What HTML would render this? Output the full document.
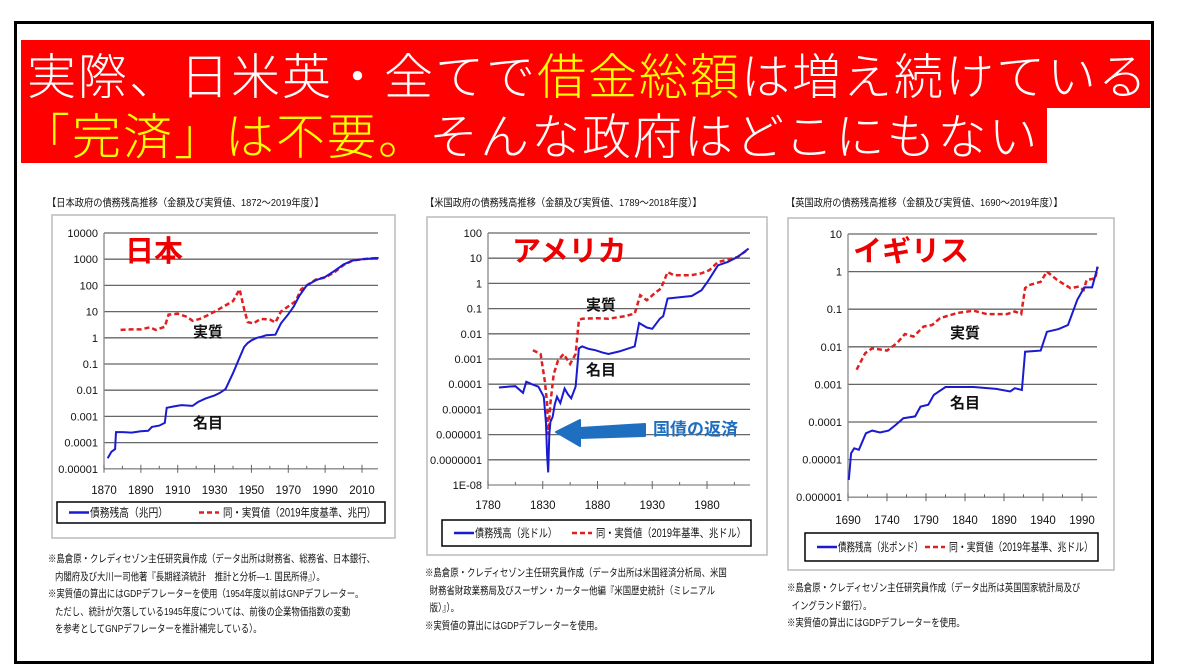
<!DOCTYPE html>
<html><head><meta charset="utf-8">
<style>
body{margin:0;background:#fff;width:1181px;height:670px;position:relative;overflow:hidden;font-family:"Liberation Sans","Noto Sans CJK JP",sans-serif;}
.frame{position:absolute;left:14px;top:21px;width:1134px;height:637px;border:3px solid #000;}
.band{position:absolute;background:#f00;color:#fff;font-family:"Noto Sans CJK JP",sans-serif;font-weight:300;font-size:49px;white-space:nowrap;overflow:hidden;}
.y{color:#ff0;}
.t{position:absolute;font-size:10.5px;white-space:nowrap;color:#111;transform:scaleX(0.88);transform-origin:0 0;}
.n{position:absolute;font-size:10.5px;line-height:17.5px;white-space:nowrap;color:#111;transform:scaleX(0.8);transform-origin:0 0;}
svg{position:absolute;left:0;top:0;}
</style></head><body>
<div class="frame"></div>
<div class="band" style="left:21px;top:40px;width:1129px;height:68px;padding-left:6px;box-sizing:border-box;line-height:68px;letter-spacing:2px;">実際、日米英・全てで<span class="y">借金総額</span>は増え続けている</div>
<div class="band" style="left:21px;top:108px;width:1026px;height:55px;line-height:52px;letter-spacing:2px;"><span class="y">「完済」は不要。</span>そんな政府はどこにもない</div>

<div class="t" style="left:47px;top:195px;">【日本政府の債務残高推移（金額及び実質値、1872～2019年度）】</div>
<div class="t" style="left:425px;top:195px;">【米国政府の債務残高推移（金額及び実質値、1789～2018年度）】</div>
<div class="t" style="left:786px;top:195px;">【英国政府の債務残高推移（金額及び実質値、1690～2019年度）】</div>

<div class="n" style="left:48px;top:551px;">※島倉原・クレディセゾン主任研究員作成（データ出所は財務省、総務省、日本銀行、<br>&nbsp;&nbsp;&nbsp;内閣府及び大川一司他著『長期経済統計　推計と分析―1. 国民所得』）。<br>※実質値の算出にはGDPデフレーターを使用（1954年度以前はGNPデフレーター。<br>&nbsp;&nbsp;&nbsp;ただし、統計が欠落している1945年度については、前後の企業物価指数の変動<br>&nbsp;&nbsp;&nbsp;を参考としてGNPデフレーターを推計補完している）。</div>
<div class="n" style="left:425px;top:565px;">※島倉原・クレディセゾン主任研究員作成（データ出所は米国経済分析局、米国<br>&nbsp;&nbsp;財務省財政業務局及びスーザン・カーター他編『米国歴史統計（ミレニアル<br>&nbsp;&nbsp;版）』）。<br>※実質値の算出にはGDPデフレーターを使用。</div>
<div class="n" style="left:787px;top:580px;">※島倉原・クレディセゾン主任研究員作成（データ出所は英国国家統計局及び<br>&nbsp;&nbsp;イングランド銀行）。<br>※実質値の算出にはGDPデフレーターを使用。</div>

<svg id="s" width="1181" height="670" xmlns="http://www.w3.org/2000/svg" font-family="Liberation Sans, Noto Sans CJK JP, sans-serif"></svg>
<script>
const s=document.getElementById('s');let h='';
function chart(c){
 const {bx,by,bw,bh,x0,x1,y0,n,maxLog,dy,yr0,yr1,px0,px1,ticks,ticksStep}=c;
 h+=`<rect x="${bx}" y="${by}" width="${bw}" height="${bh}" fill="#fff" stroke="#bbb" stroke-width="1.5"/>`;
 for(let i=0;i<=n;i++){const y=y0+i*dy;h+=`<line x1="${x0}" y1="${y}" x2="${x1}" y2="${y}" stroke="${i==n?'#888':'#666'}" stroke-width="1.3"/>`;
  h+=`<text x="${x0-6}" y="${y+4}" font-size="11" text-anchor="end" fill="#111">${c.labels[i]}</text>`;}
 h+=`<line x1="${x0}" y1="${y0}" x2="${x0}" y2="${y0+n*dy}" stroke="#888" stroke-width="1.3"/>`;
 const X=yr=>px0+(yr-yr0)*(px1-px0)/(yr1-yr0);
 const Y=l=>y0+(maxLog-l)*dy;
 const yb=y0+n*dy;
 ticks.forEach((t,i)=>{h+=`<line x1="${X(t)}" y1="${yb-4}" x2="${X(t)}" y2="${yb+4}" stroke="#666"/>`;h+=`<text x="${X(t)}" y="${yb+c.lblOff}" font-size="11.5" text-anchor="middle" fill="#111">${t}</text>`;
  const m=t+ticksStep/2; if(X(m)<x1) h+=`<line x1="${X(m)}" y1="${yb-3}" x2="${X(m)}" y2="${yb}" stroke="#666"/>`;});
 const pth=d=>d.map((p,i)=>(i?'L':'M')+X(p[0]).toFixed(1)+' '+Y(p[1]).toFixed(1)).join('');
 h+=`<path d="${pth(c.real)}" fill="none" stroke="#e02020" stroke-width="2.5" stroke-dasharray="5,3"/>`;
 h+=`<path d="${pth(c.nom)}" fill="none" stroke="#1a1ad0" stroke-width="2"/>`;
 const L=c.leg;
 h+=`<rect x="${L.x}" y="${L.y}" width="${L.w}" height="${L.h}" fill="#fff" stroke="#000" stroke-width="1.5"/>`;
 const ly=L.y+L.h/2;
 h+=`<line x1="${L.x+12}" y1="${ly}" x2="${L.x+32}" y2="${ly}" stroke="#1a1ad0" stroke-width="2.5"/>`;
 h+=`<text x="${L.x+33}" y="${ly+4}" font-size="11.5" fill="#111" textLength="${L.al}" lengthAdjust="spacingAndGlyphs">${L.a}</text>`;
 h+=`<line x1="${L.x+L.d}" y1="${ly}" x2="${L.x+L.d+20}" y2="${ly}" stroke="#e02020" stroke-width="2.5" stroke-dasharray="5,3"/>`;
 h+=`<text x="${L.x+L.d+24}" y="${ly+4}" font-size="11.5" fill="#111" textLength="${L.bl}" lengthAdjust="spacingAndGlyphs">${L.b}</text>`;
 h+=`<text x="${c.big[0]}" y="${c.big[1]}" font-size="29" font-weight="bold" fill="#e00" font-family="Noto Sans CJK JP, sans-serif">${c.big[2]}</text>`;
 h+=`<text x="${c.jx}" y="${c.j1}" font-size="15" font-weight="bold" fill="#111" font-family="Noto Sans CJK JP, sans-serif">実質</text>`;
 h+=`<text x="${c.jx}" y="${c.j2}" font-size="15" font-weight="bold" fill="#111" font-family="Noto Sans CJK JP, sans-serif">名目</text>`;
}
chart({bx:52,by:215,bw:343,bh:323,x0:104,x1:378,y0:233,n:9,dy:26.2,maxLog:4,
 labels:['10000','1000','100','10','1','0.1','0.01','0.001','0.0001','0.00001'],
 yr0:1870,yr1:2010,px0:104,px1:362,ticks:[1870,1890,1910,1930,1950,1970,1990,2010],ticksStep:20,lblOff:25,
 nom:[[1872,-4.6],[1874,-4.35],[1876,-4.25],[1876.5,-3.6],[1880,-3.6],[1885,-3.62],[1890,-3.57],[1894,-3.55],[1896,-3.4],[1900,-3.35],[1903,-3.25],[1904,-2.67],[1908,-2.62],[1912,-2.57],[1918,-2.6],[1921,-2.45],[1925,-2.32],[1930,-2.2],[1933,-2.1],[1936,-1.95],[1940,-1.35],[1943,-0.85],[1946,-0.35],[1948,-0.2],[1950,-0.1],[1953,0],[1956,0.05],[1958,0.1],[1963,0.12],[1966,0.55],[1970,0.9],[1973,1.2],[1976,1.6],[1980,2.0],[1985,2.2],[1990,2.32],[1995,2.55],[2000,2.8],[2005,2.95],[2010,3.0],[2019,3.05]],
 real:[[1879,0.3],[1885,0.32],[1890,0.32],[1895,0.4],[1898,0.3],[1903,0.42],[1905,0.88],[1910,0.92],[1915,0.8],[1918,0.65],[1922,0.72],[1926,0.85],[1930,1.0],[1935,1.2],[1940,1.4],[1943.6,1.85],[1946,1.1],[1948,0.6],[1951,0.55],[1955,0.72],[1960,0.7],[1963,0.58],[1966,1.0],[1970,1.2],[1974,1.4],[1977,1.85],[1980,2.0],[1985,2.22],[1990,2.3],[1995,2.5],[2000,2.78],[2005,2.95],[2010,3.0],[2019,3.05]],
 leg:{x:57,y:502,w:328,h:21,a:'債務残高（兆円）',al:78,d:142,b:'同・実質値（2019年度基準、兆円）',bl:153},
 big:[125,261,'日本'],jx:193,j1:337,j2:428});
chart({bx:427,by:217,bw:340,bh:338,x0:488,x1:750,y0:233,n:10,dy:25.2,maxLog:2,
 labels:['100','10','1','0.1','0.01','0.001','0.0001','0.00001','0.000001','0.0000001','1E-08'],
 yr0:1780,yr1:1980,px0:488,px1:707,ticks:[1780,1830,1880,1930,1980],ticksStep:50,lblOff:24,
 nom:[[1790,-4.13],[1798,-4.1],[1805,-4.08],[1812,-4.34],[1815,-3.9],[1820,-4.0],[1826,-4.1],[1831,-4.5],[1833,-5.55],[1834,-6.8],[1835,-7.5],[1836,-6.0],[1837,-5.5],[1839,-5.3],[1841,-4.8],[1843,-4.5],[1846,-4.75],[1850,-4.17],[1853,-4.4],[1856,-4.56],[1860,-4.1],[1863,-2.58],[1866,-2.5],[1872,-2.6],[1878,-2.65],[1885,-2.75],[1890,-2.8],[1900,-2.7],[1914,-2.5],[1918,-1.57],[1925,-1.75],[1930,-1.8],[1937,-1.4],[1940,-1.3],[1944,-0.6],[1955,-0.55],[1966,-0.5],[1975,-0.27],[1981,0.1],[1990,0.72],[1999,0.85],[2008,1.05],[2018,1.38]],
 real:[[1821,-2.65],[1828,-2.8],[1832,-3.9],[1834,-4.76],[1835,-6.0],[1837,-4.76],[1840,-3.6],[1844,-3.05],[1849,-2.8],[1855,-3.2],[1860,-2.8],[1863,-1.45],[1866,-1.4],[1880,-1.38],[1890,-1.4],[1905,-1.3],[1914,-1.2],[1919,-0.47],[1925,-0.67],[1932,-0.4],[1938,-0.2],[1944,0.45],[1950,0.32],[1965,0.32],[1975,0.4],[1982,0.52],[1990,0.85],[2000,0.95],[2008,1.05],[2018,1.36]],
 leg:{x:442,y:520,w:309,h:26,a:'債務残高（兆ドル）',al:82,d:130,b:'同・実質値（2019年基準、兆ドル）',bl:150},
 big:[512,261,'アメリカ'],jx:586,j1:310,j2:375});
chart({bx:788,by:218,bw:326,bh:352,x0:848,x1:1097,y0:234,n:7,dy:37.6,maxLog:1,
 labels:['10','1','0.1','0.01','0.001','0.0001','0.00001','0.000001'],
 yr0:1690,yr1:1990,px0:848,px1:1082,ticks:[1690,1740,1790,1840,1890,1940,1990],ticksStep:50,lblOff:27,
 nom:[[1691,-5.54],[1694,-4.83],[1698,-4.7],[1704,-4.74],[1713,-4.3],[1721,-4.23],[1731,-4.28],[1742,-4.23],[1751,-4.08],[1761,-3.9],[1776,-3.85],[1783,-3.59],[1793,-3.54],[1800,-3.28],[1815,-3.07],[1851,-3.07],[1880,-3.12],[1898,-3.19],[1904,-3.1],[1913,-3.15],[1917,-2.13],[1937,-2.1],[1945,-1.6],[1960,-1.53],[1972,-1.42],[1984,-0.75],[1993,-0.42],[2003,-0.42],[2009,0.04],[2010,0.13]],
 real:[[1701,-2.61],[1712,-2.17],[1721,-2.04],[1740,-2.1],[1753,-1.9],[1763,-1.66],[1774,-1.73],[1787,-1.46],[1798,-1.42],[1808,-1.24],[1830,-1.1],[1851,-1.04],[1868,-1.13],[1894,-1.13],[1904,-1.06],[1912,-1.13],[1917,-0.44],[1922,-0.36],[1937,-0.27],[1945,0],[1958,-0.22],[1975,-0.44],[1986,-0.4],[1992,-0.49],[1996,-0.22],[2007,-0.18],[2010,0.13]],
 leg:{x:805,y:533,w:293,h:28,a:'債務残高（兆ポンド）',al:85,d:120,b:'同・実質値（2019年基準、兆ドル）',bl:144},
 big:[853,261,'イギリス'],jx:950,j1:338,j2:408});
h+=`<path d="M645 424 L580 428 L580 420 L556 432 L580 446 L580 438 L645 436 Z" fill="#1f6fc0" stroke="#1f6fc0" stroke-width="2" stroke-linejoin="round"/>`;
h+=`<text x="653" y="435" font-size="17" font-weight="bold" fill="#1f6fc0" font-family="Noto Sans CJK JP, sans-serif">国債の返済</text>`;
s.innerHTML=h;
</script>
</body></html>
